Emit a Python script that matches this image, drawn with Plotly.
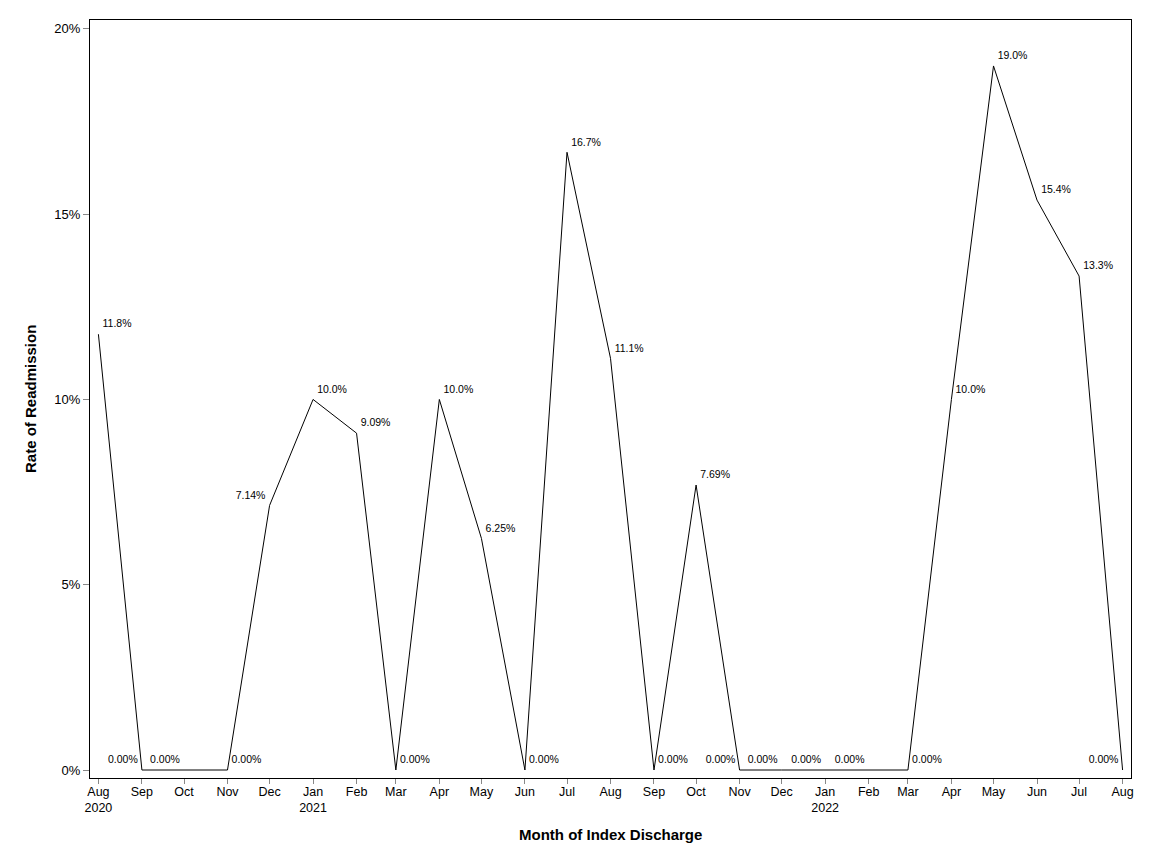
import plotly.graph_objects as go

months = ["2020-08-01", "2020-09-01", "2020-10-01", "2020-11-01", "2020-12-01",
          "2021-01-01", "2021-02-01", "2021-03-01", "2021-04-01", "2021-05-01",
          "2021-06-01", "2021-07-01", "2021-08-01", "2021-09-01", "2021-10-01",
          "2021-11-01", "2021-12-01", "2022-01-01", "2022-02-01", "2022-03-01",
          "2022-04-01", "2022-05-01", "2022-06-01", "2022-07-01", "2022-08-01"]
rates = [11.76, 0, 0, 0, 7.14, 10.0, 9.09, 0, 10.0, 6.25, 0, 16.67, 11.11, 0, 7.69,
         0, 0, 0, 0, 0, 10.0, 19.0, 15.38, 13.33, 0]
label_pos = ["top right", "top left", "top left", "top right", "top left",
             "top right", "top right", "top right", "top right", "top right",
             "top right", "top right", "top right", "top right", "top right",
             "top left", "top left", "top left", "top left", "top right",
             "top right", "top right", "top right", "top right", "top left"]
tick_text = ["Aug<br>2020", "Sep", "Oct", "Nov", "Dec", "Jan<br>2021", "Feb", "Mar",
             "Apr", "May", "Jun", "Jul", "Aug", "Sep", "Oct", "Nov", "Dec",
             "Jan<br>2022", "Feb", "Mar", "Apr", "May", "Jun", "Jul", "Aug"]
y_ticks = [0, 5, 10, 15, 20]


def fmt(v):
    return f"{v:.1f}%" if v >= 10 else f"{v:.2f}%"


labels = [fmt(v) for v in rates]
FONT = "Liberation Sans, Arial, sans-serif"

fig = go.Figure()
fig.add_trace(go.Scatter(
    x=months, y=rates, mode="lines+markers+text",
    line=dict(color="black", width=1),
    marker=dict(size=5, color="rgba(0,0,0,0)"),
    text=labels, textposition=label_pos,
    textfont=dict(family=FONT, size=10.5, color="black"),
    cliponaxis=False, hoverinfo="skip", showlegend=False,
))

fig.update_layout(
    width=1152, height=864,
    margin=dict(l=82, r=29, t=12, b=94),
    paper_bgcolor="white", plot_bgcolor="white",
    font=dict(family=FONT, size=13, color="black"),
    xaxis=dict(
        type="date", range=["2020-07-26", "2022-08-07"],
        tickmode="array", tickvals=months, ticktext=tick_text,
        ticks="outside", ticklen=5, tickcolor="#888888", tickwidth=1,
        showline=True, linecolor="black", linewidth=1, mirror=True,
        showgrid=False, zeroline=False, tickangle=0,
        tickfont=dict(size=12.5), ticklabelstandoff=-3,
    ),
    yaxis=dict(
        range=[-0.216, 20.24],
        tickmode="array", tickvals=y_ticks, ticktext=[f"{v}%" for v in y_ticks],
        ticks="outside", ticklen=6, tickcolor="#888888", tickwidth=1,
        showline=True, linecolor="black", linewidth=1, mirror=True,
        showgrid=False, zeroline=False,
        tickfont=dict(size=13),
    ),
    annotations=[
        dict(text="<b>Month of Index Discharge</b>", xref="paper", yref="paper",
             x=0.5, y=0, xanchor="center", yanchor="middle", yshift=-56,
             showarrow=False, font=dict(size=15)),
        dict(text="<b>Rate of Readmission</b>", xref="paper", yref="paper",
             x=0, y=0.5, xanchor="center", yanchor="middle", xshift=-60,
             textangle=-90, showarrow=False, font=dict(size=15)),
    ],
)

fig.write_html("out.html")
